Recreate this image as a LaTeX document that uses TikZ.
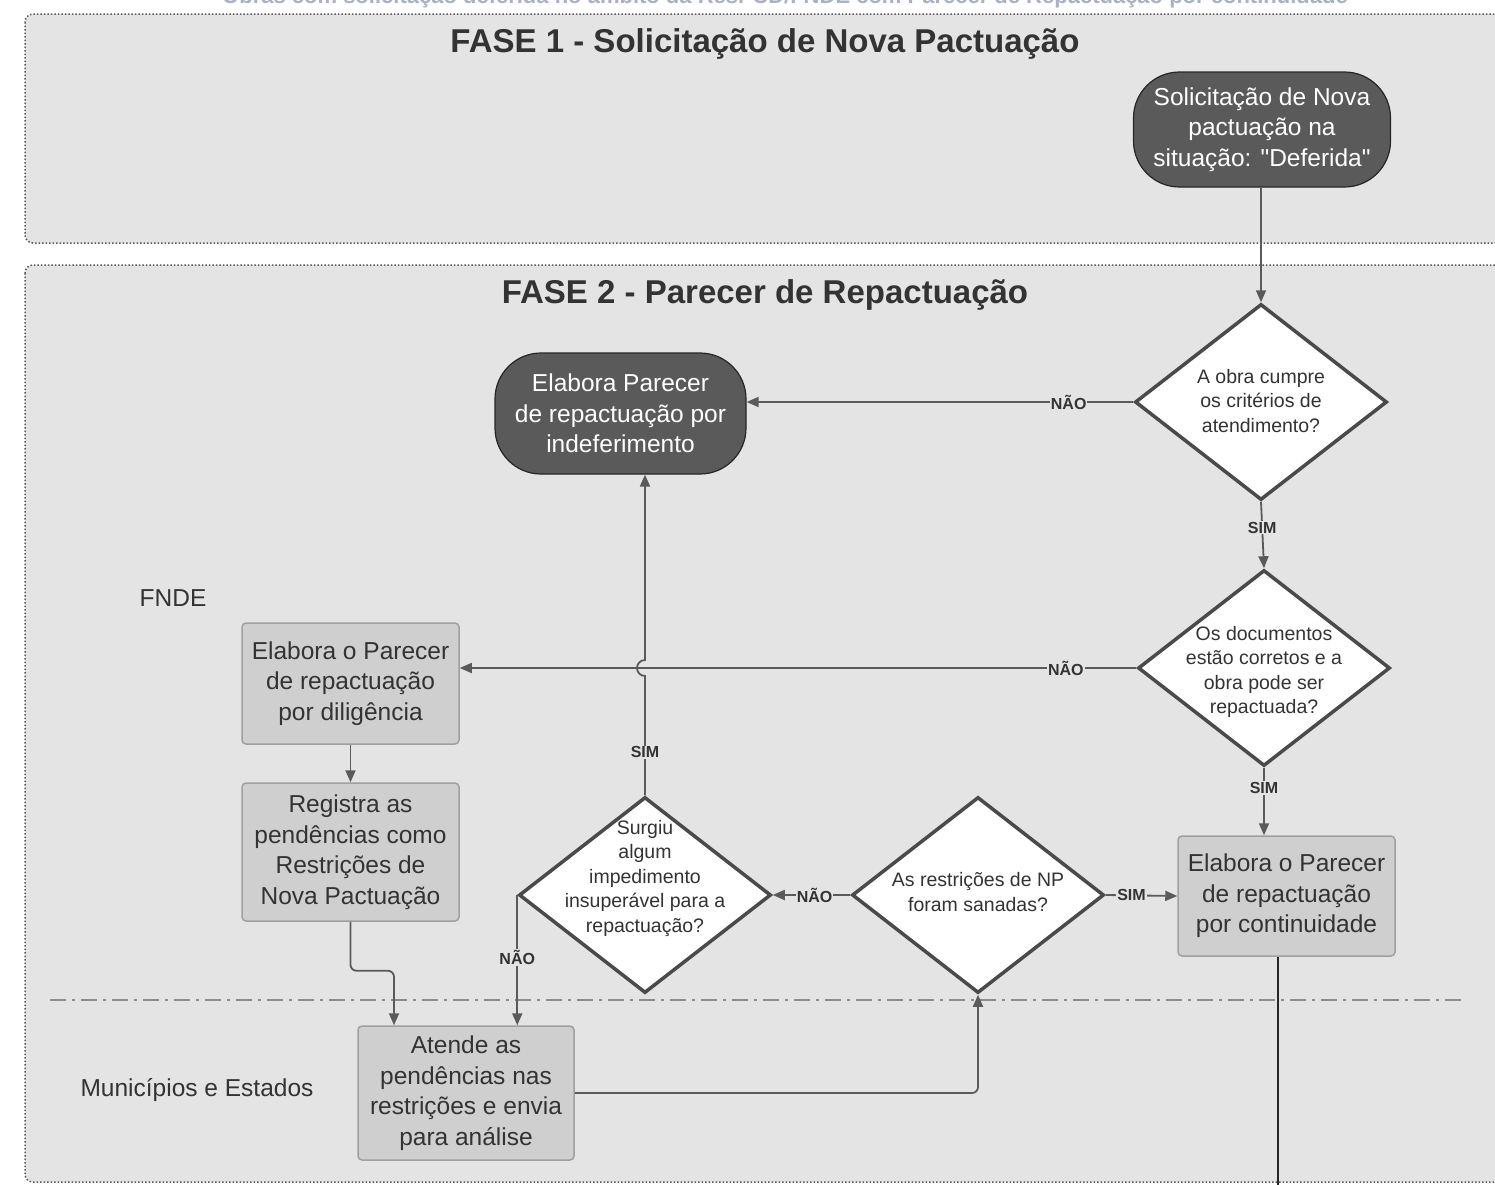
\documentclass[tikz,border=0pt]{standalone}
\usepackage{fontspec}
\setmainfont{Liberation Sans}
\usetikzlibrary{shapes.geometric,arrows.meta,calc}
\definecolor{lanefill}{HTML}{E4E4E4}
\definecolor{boxfill}{HTML}{CFCFCF}
\definecolor{boxline}{HTML}{A0A0A0}
\definecolor{darkfill}{HTML}{5A5A5A}
\definecolor{linec}{HTML}{5A5A5A}
\definecolor{dline}{HTML}{4A4A4A}
\definecolor{txt}{HTML}{333333}
\definecolor{toptxt}{HTML}{A9B2C4}
\begin{document}
\begin{tikzpicture}[x=1pt,y=-1pt,
 lane/.style={draw=black!65, dotted, line width=1.5pt, fill=lanefill, rounded corners=8pt},
 term/.style={draw=black!85, line width=1.2pt, fill=darkfill, text=white, rounded corners=46pt, align=center, inner sep=0pt, font=\fontsize{24.5}{30.5}\selectfont},
 proc/.style={draw=boxline, line width=1.5pt, fill=boxfill, rounded corners=4pt, align=center, inner sep=0pt, text=txt, font=\fontsize{24.5}{30.5}\selectfont},
 dec/.style={diamond, aspect=1.29, draw=dline, line width=3.5pt, fill=white, inner sep=0pt, minimum width=252pt, minimum height=196pt},
 dectxt/.style={text=txt, align=center, inner sep=0pt, font=\fontsize{19.5}{24.5}\selectfont},
 conn/.style={draw=linec, line width=1.8pt, -{Triangle[length=12pt,width=10pt]}},
 lbl/.style={font=\bfseries\fontsize{16}{16}\selectfont, fill=lanefill, inner sep=1pt, text=txt},
 lanelbl/.style={font=\fontsize{24.5}{30}\selectfont, text=txt},
 title/.style={font=\bfseries\fontsize{33}{36}\selectfont, text=txt}
]
\clip (0,0) rectangle (1495,1184);
\fill[white] (0,0) rectangle (1495,1184);

% cut-off caption at the top
\node[anchor=base, text=toptxt, font=\bfseries\fontsize{22}{24}\selectfont, inner sep=0pt] (cap) at (785,3) {Obras com solicitação deferida no âmbito da Res. CD/FNDE com Parecer de Repactuação por continuidade};

% lanes
\path[lane] (25,14) rectangle (1520,243);
\path[lane] (25,265) rectangle (1520,1182);
\node[title] (t1) at (765,44) {FASE 1 - Solicitação de Nova Pactuação};
\node[title] (t2) at (765,295) {FASE 2 - Parecer de Repactuação};

\node[lanelbl] (fnde) at (173,598) {FNDE};
\node[lanelbl] (mun) at (197,1090) {Municípios e Estados};

\draw[draw=black!45, line width=2pt, dash pattern=on 16pt off 6pt on 3pt off 6pt] (50,1000) -- (1465,1000);

% nodes
\node[term, minimum width=257pt, minimum height=115pt] (start) at (1262,129.5) {Solicitação de Nova\\pactuação na\\situação: \textquotedbl Deferida\textquotedbl};
\node[dec] (d1) at (1261,402) {};
\node[dectxt] (d1t) at (1261,401) {A obra cumpre\\os critérios de\\atendimento?};
\node[term, minimum width=251pt, minimum height=121pt] (indef) at (620.5,413.5) {Elabora Parecer\\de repactuação por\\indeferimento};
\node[dec] (d2) at (1264,668) {};
\node[dectxt] (d2t) at (1264,672) {Os documentos\\estão corretos e a\\obra pode ser\\repactuada?};
\node[proc, minimum width=217pt, minimum height=121pt] (dilig) at (350.5,683.5) {Elabora o Parecer\\de repactuação\\por diligência};
\node[proc, minimum width=217pt, minimum height=138pt] (regist) at (350.5,852) {Registra as\\pendências como\\Restrições de\\Nova Pactuação};
\node[proc, minimum width=217pt, minimum height=120pt] (contin) at (1286.5,896) {Elabora o Parecer\\de repactuação\\por continuidade};
\node[dec] (d3) at (645,895) {};
\node[dectxt] (d3t) at (645,878) {Surgiu\\algum\\impedimento\\insuperável para a\\repactuação?};
\node[dec] (d4) at (978,895) {};
\node[dectxt] (d4t) at (978,892) {As restrições de NP\\foram sanadas?};
\node[proc, minimum width=216pt, minimum height=134pt] (atende) at (466,1093) {Atende as\\pendências nas\\restrições e envia\\para análise};
\coordinate (out) at (1278,1200);

% connectors
\draw[conn] (start.south -| d1.north) -- (d1.north);
\draw[conn] (d1.west) -- node[lbl, pos=0.167] {NÃO} (d1.west -| indef.east);
\draw[conn] (d1.south) -- node[lbl, pos=0.39] {SIM} (d2.north);
\draw[conn] (d3.north) -- node[lbl, pos=0.36] {SIM} (645,676) arc[start angle=270, end angle=90, radius=8pt] -- (d3.north |- indef.south);
\draw[conn] (d2.west) -- node[lbl, pos=0.104] {NÃO} (d2.west -| dilig.east);
\draw[conn] (d2.south) -- node[lbl, pos=0.3] {SIM} (d2.south |- contin.north);
\draw[conn] (dilig.south) -- (regist.north);
\draw[conn, rounded corners=6pt] (regist.south) -- ++(0,49) -| ([xshift=-72pt]atende.north);
\draw[conn] (d3.west) -- node[lbl, pos=0.48] {NÃO} (d3.west |- atende.north);
\draw[conn] (d4.west) -- node[lbl, pos=0.46] {NÃO} (d3.east);
\draw[conn] (d4.east) -- node[lbl, pos=0.36] {SIM} (contin.west);
\draw[conn, rounded corners=6pt] (atende.east) -| (d4.south);
\draw[draw=black!85, line width=1.6pt] ([xshift=-8.5pt]contin.south) -- (out);
\end{tikzpicture}
\end{document}
